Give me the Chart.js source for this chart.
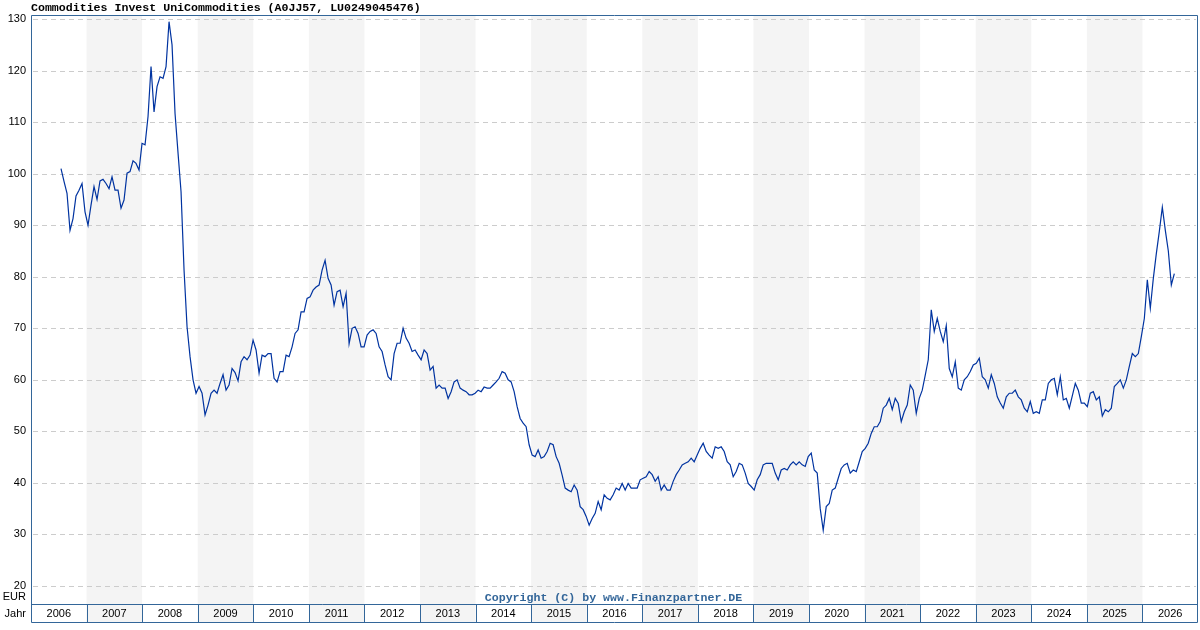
<!DOCTYPE html>
<html>
<head>
<meta charset="utf-8">
<title>Commodities Invest UniCommodities</title>
<script src="https://cdn.jsdelivr.net/npm/chart.js@4.4.1/dist/chart.umd.min.js"></script>
<style>
  html, body { margin: 0; padding: 0; background: #ffffff; }
  #wrap { width: 1200px; height: 630px; }
</style>
</head>
<body>
<div id="wrap"><canvas id="priceChart" width="1200" height="630"></canvas></div>
<script>
// --- DATA ---
const chartTitle = 'Commodities Invest UniCommodities (A0JJ57, LU0249045476)';
const copyrightText = 'Copyright (C) by www.Finanzpartner.DE';
const currencyLabel = 'EUR';
const yearAxisLabel = 'Jahr';

const years = [2006, 2007, 2008, 2009, 2010, 2011, 2012, 2013, 2014, 2015, 2016,
               2017, 2018, 2019, 2020, 2021, 2022, 2023, 2024, 2025, 2026];
const yTicks = [20, 30, 40, 50, 60, 70, 80, 90, 100, 110, 120, 130];

// price samples, first one in mid 2006, one roughly every 20 days
const sampleStart = 2006.54;
const sampleStep = 0.054;
const prices = [
  101.0, 98.5, 96.2, 89.0, 91.3, 95.7, 96.8, 98.1, 92.6, 90.0, 93.9, 97.5,
  95.0, 98.6, 98.9, 98.1, 97.1, 99.4, 96.8, 96.8, 93.3, 94.9, 100.1, 100.4,
  102.5, 102.0, 100.7, 105.9, 105.6, 111.1, 120.8, 112.0, 116.9, 118.8, 118.5, 120.8,
  129.5, 125.0, 111.7, 104.0, 96.5, 81.3, 70.3, 64.5, 60.0, 57.4, 58.7, 57.4,
  53.2, 55.1, 57.4, 58.0, 57.4, 59.3, 61.0, 58.0, 59.0, 62.2, 61.4, 59.8,
  63.5, 64.5, 63.9, 64.8, 67.7, 65.8, 61.3, 64.8, 64.5, 65.1, 65.1, 60.3,
  59.6, 61.6, 61.6, 64.8, 64.5, 66.4, 69.0, 69.7, 73.2, 73.2, 75.8, 76.1,
  77.4, 78.0, 78.4, 81.3, 83.2, 79.7, 78.4, 74.5, 77.1, 77.4, 74.2, 76.8,
  67.0, 70.0, 70.3, 69.0, 66.4, 66.4, 68.7, 69.4, 69.7, 69.0, 66.4, 65.5,
  62.9, 60.6, 60.0, 65.1, 67.1, 67.1, 70.0, 68.1, 67.1, 65.5, 65.8, 64.8,
  63.9, 65.8, 65.1, 61.9, 62.6, 58.4, 59.0, 58.4, 58.4, 56.4, 57.7, 59.6,
  60.0, 58.4, 58.0, 57.7, 57.1, 57.1, 57.4, 58.0, 57.7, 58.6, 58.4, 58.4,
  59.0, 59.6, 60.3, 61.6, 61.3, 60.0, 59.6, 57.7, 54.8, 52.5, 51.6, 50.9,
  47.4, 45.4, 45.1, 46.4, 44.8, 45.1, 46.1, 47.7, 47.4, 45.1, 43.8, 41.5,
  39.0, 38.6, 38.3, 39.6, 38.6, 35.4, 34.8, 33.5, 31.8, 33.1, 34.1, 36.4,
  34.8, 37.7, 37.0, 36.7, 37.7, 39.0, 38.6, 39.9, 38.6, 39.9, 39.0, 39.0,
  39.0, 40.6, 40.9, 41.2, 42.2, 41.6, 40.3, 41.2, 38.6, 39.6, 38.6, 38.6,
  40.3, 41.6, 42.5, 43.5, 43.8, 44.1, 44.8, 44.1, 45.4, 46.7, 47.7, 46.1,
  45.4, 44.8, 47.0, 46.7, 47.0, 46.1, 44.1, 43.5, 41.2, 42.2, 43.8, 43.5,
  41.9, 39.9, 39.3, 38.6, 40.6, 41.6, 43.5, 43.8, 43.8, 43.8, 41.9, 40.6,
  42.5, 42.8, 42.5, 43.5, 44.1, 43.5, 44.1, 43.5, 43.2, 45.1, 45.8, 42.5,
  41.9, 35.0, 30.8, 35.4, 36.0, 38.6, 39.0, 40.9, 42.8, 43.5, 43.8, 41.9,
  42.5, 42.2, 44.1, 46.1, 46.7, 47.7, 49.6, 50.9, 50.9, 51.9, 54.5, 55.1,
  56.4, 54.2, 56.4, 55.4, 51.9, 53.8, 55.1, 59.0, 58.0, 53.5, 56.4, 58.0,
  60.9, 63.9, 73.6, 69.4, 71.9, 69.4, 67.4, 70.5, 62.2, 60.6, 63.5, 58.4,
  58.0, 60.0, 60.6, 61.6, 62.9, 63.2, 64.2, 60.6, 60.0, 58.4, 61.0, 59.3,
  56.7, 55.5, 54.5, 56.7, 57.4, 57.4, 58.0, 56.7, 56.1, 54.5, 53.8, 55.8,
  53.5, 53.8, 53.5, 56.1, 56.1, 59.3, 60.0, 60.3, 57.1, 60.6, 56.1, 56.4,
  54.5, 56.9, 59.3, 58.0, 55.5, 55.5, 54.8, 57.4, 57.7, 56.1, 56.7, 53.0,
  54.2, 53.8, 54.5, 58.7, 59.3, 60.0, 58.4, 60.0, 62.6, 65.1, 64.5, 65.1,
  68.4, 71.9, 79.4, 73.9, 79.7, 84.5, 88.8, 93.5, 89.0, 85.0, 78.4, 80.6
];
// ------------------------

const COLORS = {
  line: '#0033a0',
  frame: '#336699',
  stripe: '#f4f4f4',
  grid: '#cccccc',
  text: '#000000'
};
const LABEL_FONT = '11px "Liberation Sans", Arial, sans-serif';
const MONO_FONT = 'bold 11.6px "Liberation Mono", "DejaVu Sans Mono", monospace';

function buildPoints() {
  return prices.map((v, i) => ({ x: sampleStart + i * sampleStep, y: v }));
}

// background stripes, dashed grid and all the frame text
const framePlugin = {
  id: 'framePlugin',
  beforeDatasetsDraw(chart) {
    const { ctx, chartArea: area } = chart;
    const xs = chart.scales.x;
    const ys = chart.scales.y;
    const rowBottom = chart.height - 8;

    ctx.save();
    ctx.fillStyle = '#ffffff';
    ctx.fillRect(0, 0, chart.width, chart.height);

    // alternating year columns (plot and year row)
    years.forEach(yr => {
      if (yr % 2 === 1) {
        const x0 = xs.getPixelForValue(yr);
        const x1 = xs.getPixelForValue(yr + 1);
        ctx.fillStyle = COLORS.stripe;
        ctx.fillRect(x0, area.top, x1 - x0, rowBottom - area.top);
      }
    });

    // dashed horizontal grid
    ctx.strokeStyle = COLORS.grid;
    ctx.lineWidth = 1;
    ctx.setLineDash([5, 4]);
    yTicks.forEach(v => {
      const y = Math.round(ys.getPixelForValue(v)) + 0.5;
      ctx.beginPath();
      ctx.moveTo(area.left + 2, y);
      ctx.lineTo(area.right - 2, y);
      ctx.stroke();
    });
    ctx.setLineDash([]);

    // y tick labels
    ctx.fillStyle = COLORS.text;
    ctx.font = LABEL_FONT;
    ctx.textAlign = 'right';
    ctx.textBaseline = 'middle';
    yTicks.forEach(v => {
      ctx.fillText(String(v), area.left - 5, ys.getPixelForValue(v));
    });
    ctx.fillText(currencyLabel, area.left - 5, area.bottom - 7);
    ctx.fillText(yearAxisLabel, area.left - 5, (area.bottom + rowBottom) / 2 + 1);

    // year labels
    ctx.textAlign = 'center';
    years.forEach(yr => {
      const cx = (xs.getPixelForValue(yr) + xs.getPixelForValue(yr + 1)) / 2;
      ctx.fillText(String(yr), cx, (area.bottom + rowBottom) / 2 + 1);
    });

    // title
    ctx.font = MONO_FONT;
    ctx.textAlign = 'left';
    ctx.fillText(chartTitle, area.left, 8);
    ctx.restore();
  },
  afterDatasetsDraw(chart) {
    const { ctx, chartArea: area } = chart;
    const xs = chart.scales.x;
    const rowBottom = chart.height - 8;

    ctx.save();
    ctx.strokeStyle = COLORS.frame;
    ctx.lineWidth = 1;
    ctx.beginPath();
    // outer frame
    ctx.moveTo(area.left + 0.5, area.top + 0.5);
    ctx.lineTo(area.right - 0.5, area.top + 0.5);
    ctx.lineTo(area.right - 0.5, rowBottom + 0.5);
    ctx.lineTo(area.left + 0.5, rowBottom + 0.5);
    ctx.closePath();
    // year row top line and column separators
    ctx.moveTo(area.left, Math.round(area.bottom) + 0.5);
    ctx.lineTo(area.right, Math.round(area.bottom) + 0.5);
    years.forEach(yr => {
      const x = Math.round(xs.getPixelForValue(yr)) + 0.5;
      ctx.moveTo(x, area.bottom);
      ctx.lineTo(x, rowBottom);
    });
    ctx.stroke();

    // copyright note inside the plot
    ctx.fillStyle = COLORS.frame;
    ctx.font = MONO_FONT;
    ctx.textAlign = 'center';
    ctx.textBaseline = 'middle';
    ctx.fillText(copyrightText, (area.left + area.right) / 2 - 1, area.bottom - 6);
    ctx.restore();
  }
};

function renderPriceChart() {
  const ctx = document.getElementById('priceChart').getContext('2d');

  new Chart(ctx, {
    type: 'line',
    data: {
      datasets: [{
        data: buildPoints(),
        borderColor: COLORS.line,
        borderWidth: 1.2,
        pointRadius: 0,
        tension: 0,
        fill: false
      }]
    },
    options: {
      responsive: false,
      devicePixelRatio: 1,
      animation: false,
      layout: { padding: { left: 31, right: 2, top: 15, bottom: 26 } },
      plugins: {
        legend: { display: false },
        tooltip: { enabled: false }
      },
      scales: {
        x: { type: 'linear', min: years[0], max: years[years.length - 1] + 1, display: false },
        y: { type: 'linear', min: 16.5, max: 130.8, display: false }
      }
    },
    plugins: [framePlugin]
  });
}

document.addEventListener('DOMContentLoaded', renderPriceChart);
</script>
</body>
</html>
